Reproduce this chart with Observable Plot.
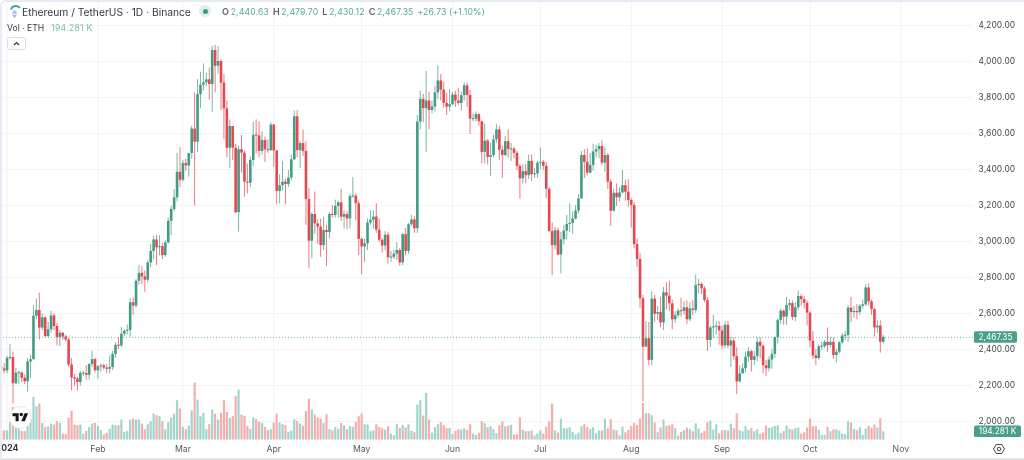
<!DOCTYPE html>
<html><head><meta charset="utf-8">
<style>
html,body{margin:0;padding:0;background:#fff;overflow:hidden}
#wrap{position:relative;width:1024px;height:460px;overflow:hidden;font-family:Inter,"Noto Sans",sans-serif;background:#fff;filter:blur(0.3px)}
#wrap svg{display:block}
#frame{position:absolute;left:0;top:0;width:1024px;height:460px;box-sizing:border-box;border-top:2px solid #e8ebf6;border-left:2px solid #e8ebf6;border-bottom:2px solid #e4e4e6;border-top-left-radius:6px;pointer-events:none}
.hd{position:absolute;white-space:nowrap;line-height:14px}
#title{left:22px;top:5px;font-size:10.25px;color:#333842}
#ohlc{left:222px;top:5px;font-size:8.6px;letter-spacing:.16px;color:#54ab97}
#ohlc b{font-weight:600;color:#5d6068;margin-left:4px;margin-right:1.6px;font-size:9px}
#ohlc b:first-child{margin-left:0}
#ohlc i{font-style:normal;margin-left:4px}
#vol{left:7px;top:21px;font-size:8.6px;color:#333842}
#vol span{color:#72bfb1;margin-left:7px;letter-spacing:.3px}
#halo{position:absolute;left:199px;top:5px;width:12px;height:12px;border-radius:50%;background:#dcefea}
#dot{position:absolute;left:202.5px;top:8.5px;width:5px;height:5px;border-radius:50%;background:#3d9a84}
#btn{position:absolute;left:7px;top:37px;width:19px;height:13px;box-sizing:border-box;border:1px solid #dcdde0;border-radius:3px;background:#fff}
</style>
<script src="https://cdn.jsdelivr.net/npm/d3@7"></script>
<script src="https://cdn.jsdelivr.net/npm/@observablehq/plot@0.6"></script>
</head><body>
<div id="wrap">
<div id="chart"></div>
<div id="frame"></div>
<svg style="position:absolute;left:9px;top:5px" width="13" height="14" viewBox="0 0 13 14"><path d="M2 4.5A5.2 5.2 0 0 1 11 3" fill="none" stroke="#4aa596" stroke-width="2"/><path d="M5.5 4.5 8.5 8 5.5 9.5 2.5 8Z" fill="#b9c6f2"/><path d="M2.8 9 5.5 10.5 8.2 9 5.5 13Z" fill="#8fa4ea"/></svg>
<div class="hd" id="title">Ethereum / TetherUS · 1D · Binance</div>
<div id="halo"></div><div id="dot"></div>
<div class="hd" id="ohlc"><b>O</b>2,440.63<b>H</b>2,479.70<b>L</b>2,430.12<b>C</b>2,467.35<i>+26.73 (+1.10%)</i></div>
<div class="hd" id="vol">Vol · ETH<span>194.281 K</span></div>
<div id="btn"><svg width="17" height="11" viewBox="0 0 17 11" style="display:block"><path d="M6 7 8.5 4.5 11 7" fill="none" stroke="#333" stroke-width="1.2"/></svg></div>
</div>
<script>
const monthLabels = ["Feb","Mar","Apr","May","Jun","Jul","Aug","Sep","Oct","Nov"];
const priceTicks = [2000,2200,2400,2600,2800,3000,3200,3400,3600,3800,4000,4200];
const lastClose = 2467.35, lastVolume = 194.281;

const opens = [2300,2292,
2281,2352,2355,2210,2268,2269,2240,2221,2331,2344,
2585,2617,2519,2576,2472,2510,2587,2528,2467,2490,
2470,2453,2314,2243,2236,2217,2267,2267,2257,2317,
2344,2282,2304,2309,2297,2290,2300,2373,2423,2420,
2485,2502,2506,2660,2641,2779,2823,2803,2785,2881,
2945,3009,2965,2971,2922,2992,3112,3178,3243,3385,
3340,3433,3420,3489,3625,3552,3817,3868,3882,3898,
3872,4061,3974,4000,3880,3737,3518,3639,3519,3160,
3510,3491,3330,3324,3450,3590,3587,3500,3561,3510,
3505,3647,3503,3278,3310,3330,3317,3353,3454,3693,
3505,3544,3500,3233,3002,3150,3098,3080,2977,3061,
3050,3150,3145,3195,3215,3135,3150,3125,3250,3252,
3210,3012,2970,2988,3103,3118,3136,3063,3007,2975,
3035,2910,2912,2930,2950,2881,3038,2945,3093,3120,
3071,3664,3790,3738,3781,3728,3748,3826,3892,3841,
3767,3747,3760,3814,3780,3767,3810,3865,3812,3680,
3680,3705,3665,3495,3558,3467,3477,3565,3620,3507,
3478,3555,3511,3513,3490,3417,3348,3388,3366,3445,
3372,3375,3435,3440,3418,3290,3055,2977,3060,2925,
3010,3058,3095,3100,3125,3170,3237,3478,3440,3380,
3423,3497,3510,3528,3435,3478,3330,3168,3268,3243,
3270,3310,3274,3228,3200,2983,2900,2682,2413,2460,
2340,2680,2596,2605,2548,2715,2697,2654,2565,2588,
2613,2612,2632,2565,2625,2617,2755,2762,2737,2672,
2450,2520,2525,2528,2503,2420,2535,2420,2447,2360,
2220,2265,2293,2357,2388,2340,2360,2440,2418,2310,
2293,2341,2373,2466,2562,2613,2580,2645,2655,2578,
2632,2694,2677,2657,2602,2447,2364,2350,2415,2416,
2440,2422,2440,2367,2385,2437,2475,2478,2630,2606,
2610,2605,2640,2648,2742,2665,2622,2520,2530,2440.63];
const highs = [2320,2322,
2362,2428,2386,2295,2280,2276,2258,2350,2368,2643,
2681,2713,2600,2580,2550,2613,2600,2545,2505,2495,
2480,2462,2350,2262,2245,2278,2280,2310,2320,2390,
2352,2310,2320,2320,2315,2365,2390,2437,2465,2522,
2510,2536,2683,2687,2788,2867,2860,2835,2895,2985,
3030,3033,3032,2990,3003,3130,3195,3288,3488,3522,
3450,3457,3490,3640,3825,3900,3941,3987,3933,3963,
4085,4090,4083,4010,3930,3780,3675,3640,3540,3530,
3589,3500,3430,3470,3663,3676,3665,3610,3580,3565,
3660,3650,3505,3370,3445,3345,3395,3480,3725,3727,
3555,3618,3555,3296,3160,3275,3120,3125,3135,3090,
3160,3200,3230,3225,3290,3170,3165,3265,3355,3265,
3225,3020,3015,3125,3170,3170,3210,3125,3015,3055,
3050,2945,2950,2995,2960,3045,3072,3100,3145,3140,
3700,3835,3817,3945,3830,3780,3860,3975,3928,3885,
3825,3845,3830,3835,3850,3830,3880,3880,3840,3710,
3720,3710,3670,3655,3565,3547,3590,3650,3640,3530,
3585,3620,3545,3525,3500,3430,3425,3428,3480,3482,
3405,3445,3520,3450,3440,3300,3103,3080,3075,3050,
3090,3145,3210,3165,3200,3260,3500,3510,3515,3490,
3540,3535,3545,3560,3520,3490,3345,3290,3320,3300,
3395,3340,3345,3240,3215,3015,2935,2700,2555,2550,
2720,2700,2640,2690,2745,2770,2780,2675,2610,2625,
2685,2665,2670,2660,2670,2815,2790,2770,2750,2690,
2530,2590,2555,2555,2530,2555,2555,2470,2465,2410,
2310,2320,2385,2410,2395,2390,2465,2465,2425,2340,
2360,2400,2470,2570,2625,2620,2690,2675,2670,2660,
2725,2705,2695,2670,2610,2500,2400,2425,2440,2450,
2520,2465,2465,2400,2445,2490,2500,2645,2690,2640,
2650,2650,2675,2760,2765,2675,2630,2560,2560,2479.7];
const lows = [2270,2265,
2265,2340,2098,2205,2205,2215,2205,2163,2238,2340,
2565,2453,2505,2465,2465,2490,2505,2420,2415,2452,
2440,2302,2170,2197,2170,2197,2250,2230,2230,2300,
2270,2235,2275,2285,2265,2265,2285,2353,2400,2410,
2470,2480,2468,2590,2630,2758,2760,2718,2770,2854,
2900,2866,2920,2900,2913,2985,3033,3165,3220,3300,
3330,3390,3358,3457,3196,3496,3738,3835,3860,3783,
3718,3826,3930,3728,3565,3465,3407,3450,3155,3052,
3380,3246,3265,3300,3417,3487,3465,3480,3440,3490,
3500,3413,3205,3210,3280,3205,3300,3340,3450,3465,
3405,3472,3090,2848,2903,3040,2985,2912,2950,2861,
3015,3130,3130,3130,3110,3070,3065,3070,3240,3115,
2922,2815,2885,2950,3090,3070,3045,2995,2935,2950,
2875,2885,2900,2895,2862,2865,2920,2930,3085,3045,
3045,3620,3660,3495,3620,3710,3720,3790,3780,3740,
3700,3720,3755,3745,3755,3725,3780,3745,3595,3665,
3665,3640,3431,3431,3425,3360,3465,3545,3450,3350,
3470,3465,3445,3460,3395,3235,3320,3320,3345,3335,
3350,3350,3400,3395,3240,3050,2810,2953,2922,2820,
2980,3010,3050,3040,3120,3155,3235,3350,3365,3375,
3390,3465,3460,3420,3385,3290,3085,3165,3195,3220,
3265,3225,3190,3075,2960,2855,2630,2111,2415,2310,
2310,2550,2560,2520,2505,2620,2610,2510,2545,2575,
2580,2590,2540,2555,2590,2600,2710,2705,2660,2390,
2410,2460,2480,2425,2400,2405,2405,2300,2340,2150,
2215,2265,2270,2330,2275,2310,2330,2350,2265,2250,
2275,2290,2350,2430,2540,2535,2535,2615,2560,2555,
2615,2640,2625,2530,2410,2345,2310,2340,2395,2405,
2385,2410,2345,2325,2375,2430,2450,2440,2550,2575,
2565,2590,2625,2640,2640,2590,2470,2490,2380,2430.12];
const closes = [2292,2281,
2352,2355,2210,2268,2269,2240,2221,2331,2344,2585,
2617,2519,2576,2472,2510,2587,2528,2467,2490,2470,
2453,2314,2243,2236,2217,2267,2267,2257,2317,2344,
2282,2304,2309,2297,2290,2300,2373,2423,2420,2485,
2502,2506,2660,2641,2779,2823,2803,2785,2881,2945,
3009,2965,2971,2922,2992,3112,3178,3243,3385,3340,
3433,3420,3489,3625,3552,3817,3868,3882,3898,3872,
4061,3974,4000,3880,3737,3518,3639,3519,3160,3510,
3491,3330,3324,3450,3590,3587,3500,3561,3510,3505,
3647,3503,3278,3310,3330,3317,3353,3454,3693,3505,
3544,3500,3233,3002,3150,3098,3080,2977,3061,3050,
3150,3145,3195,3215,3135,3150,3125,3250,3252,3210,
3012,2970,2988,3103,3118,3136,3063,3007,2975,3035,
2910,2912,2930,2950,2881,3038,2945,3093,3120,3071,
3664,3790,3738,3781,3728,3748,3826,3892,3841,3767,
3747,3760,3814,3780,3767,3810,3865,3812,3680,3680,
3705,3665,3495,3558,3467,3477,3565,3620,3507,3478,
3555,3511,3513,3490,3417,3348,3388,3366,3445,3372,
3375,3435,3440,3418,3290,3055,2977,3060,2925,3010,
3058,3095,3100,3125,3170,3237,3478,3440,3380,3423,
3497,3510,3528,3435,3478,3330,3168,3268,3243,3270,
3310,3274,3228,3200,2983,2900,2682,2413,2460,2340,
2680,2596,2605,2548,2715,2697,2654,2565,2588,2613,
2612,2632,2565,2625,2617,2755,2762,2737,2672,2450,
2520,2525,2528,2503,2420,2535,2420,2447,2360,2220,
2265,2293,2357,2388,2340,2360,2440,2418,2310,2293,
2341,2373,2466,2562,2613,2580,2645,2655,2578,2632,
2694,2677,2657,2602,2447,2364,2350,2415,2416,2440,
2422,2440,2367,2385,2437,2475,2478,2630,2606,2610,
2605,2640,2648,2742,2665,2622,2520,2530,2440.63,2467.35];
const volumesK = [218,218,
218,413,764,413,312,203,203,320,507,998,
780,842,390,296,312,374,351,437,390,140,
125,507,671,351,335,351,140,203,296,374,
390,320,218,117,156,257,351,335,335,468,
179,203,468,491,468,468,374,242,359,429,
608,569,546,429,242,406,515,608,920,725,
296,242,328,686,1334,936,546,624,242,359,
702,608,468,624,920,647,507,546,1014,1170,
585,554,312,250,523,476,421,390,296,218,
242,398,608,398,359,335,179,211,476,437,
374,320,671,959,702,585,515,491,390,593,
242,218,289,250,390,335,242,312,296,413,
546,608,359,351,195,218,359,296,265,234,
312,140,101,359,273,343,281,359,203,172,
819,920,562,1092,468,164,289,359,406,335,
265,273,133,203,242,234,265,226,359,140,
109,156,429,382,289,312,242,148,335,429,
312,320,343,117,125,523,234,195,195,211,
94,140,218,140,304,429,842,218,164,491,
265,265,289,179,125,164,312,359,296,242,
289,148,211,211,491,265,476,234,218,101,
304,172,226,312,390,343,491,858,616,616,
569,398,172,281,468,320,335,359,265,94,
179,218,281,242,195,382,257,156,203,406,
445,234,359,148,218,226,211,374,265,616,
218,195,312,226,273,195,242,133,164,328,
273,289,320,335,156,195,328,250,234,273,
281,140,172,281,491,312,312,234,109,109,
296,195,242,242,211,140,125,429,398,250,
218,289,109,257,320,273,351,281,499,194.281];

const DAY = 864e5, jan1 = Date.UTC(2024,0,1), first = Date.UTC(2023,11,30);
const GREEN = "#429b85", RED = "#e6474f", VGREEN = "#a0d5cd", VRED = "#f4aeac";
const candles = closes.map((c,i)=>({date:new Date(first+i*DAY),o:opens[i],h:highs[i],l:lows[i],c,v:volumesK[i],up:c>=opens[i]}));
const months = monthLabels.map((m,i)=>new Date(Date.UTC(2024,1+i,1)));
// volume pane shares the price axis: baseline and scale of the lower pane
const volBase = 1897, volScale = 0.2375;
const volY = v => volBase + v*volScale;
const bodyLo = d => Math.abs(d.o-d.c)<6 ? (d.o+d.c)/2-3 : Math.min(d.o,d.c);
const bodyHi = d => Math.abs(d.o-d.c)<6 ? (d.o+d.c)/2+3 : Math.max(d.o,d.c);
const colorOf = d => d.up?GREEN:RED;
const font = 'Inter,"Noto Sans",sans-serif';

const chart = Plot.plot({
  width:1024, height:460, marginLeft:0, marginRight:51, marginTop:0, marginBottom:19,
  style:{fontFamily:font, fontSize:"8.3px", background:"transparent", overflow:"hidden"},
  x:{type:"utc", domain:[new Date(jan1-2.25*DAY), new Date(jan1+329.8*DAY)]},
  y:{domain:[1889,4339]},
  marks:[
    Plot.ruleX([new Date(jan1),...months],{stroke:"#f1f2f4",strokeWidth:1}),
    Plot.ruleY(priceTicks,{stroke:"#f3f4f6",strokeWidth:1}),
    Plot.ruleX(candles,{x:"date",y1:volBase,y2:d=>volY(d.v),stroke:d=>d.up?VGREEN:VRED,strokeWidth:2.2}),
    Plot.ruleY([lastClose],{stroke:"#3fa58c",strokeOpacity:.75,strokeDasharray:"1,2",strokeWidth:1}),
    Plot.ruleX(candles,{x:"date",y1:"l",y2:"h",stroke:colorOf,strokeWidth:1,strokeOpacity:.72}),
    Plot.ruleX(candles,{x:"date",y1:bodyLo,y2:bodyHi,stroke:colorOf,strokeWidth:2.6}),
    Plot.axisY(priceTicks,{anchor:"right",tickSize:0,tickPadding:5,tickFormat:",.2f",label:null,fill:"#3f434c",fontSize:8.3}),
    Plot.axisX(months,{anchor:"bottom",tickSize:0,tickPadding:4,tickFormat:d=>monthLabels[months.findIndex(m=>+m===+d)],label:null,fill:"#55585f",fontSize:8.7}),
    Plot.text(["2024"],{x:()=>new Date(jan1),frameAnchor:"bottom",dy:9,fontWeight:700,fontSize:8.7,fill:"#33363d"})
  ]
});
document.getElementById("chart").appendChild(chart);

const yS = chart.scale("y");
const svg = d3.select(chart);
function tag(value, txt, x0, w, h){
  const cy = yS.apply(value);
  const g = svg.append("g");
  g.append("rect").attr("x",x0).attr("y",cy-h/2).attr("width",w).attr("height",h).attr("rx",1.5).attr("fill","#499f8b");
  g.append("text").attr("x",x0+w/2).attr("y",cy).attr("dy","0.35em").attr("text-anchor","middle").attr("fill","#fff").attr("font-size",8.3).text(txt);
}
tag(lastClose,"2,467.35",974,43,11.5);
tag(volY(lastVolume),"194.281 K",974,47,11.5);

// TradingView mark
const tv = svg.append("g").attr("transform","translate(20.5,417.5)");
tv.append("circle").attr("r",11).attr("fill","#fff").attr("stroke","#e6e7ea");
tv.append("g").attr("transform","translate(-8,-6) scale(.44)").attr("fill","#131722")
  .call(g=>{g.append("path").attr("d","M14 22H7V11H0V4h14v18zM28 22h-8l7.5-18h8L28 22z");g.append("circle").attr("cx",20).attr("cy",7).attr("r",4);});
// settings glyph
const gear = svg.append("g").attr("transform","translate(999,449)").attr("fill","none").attr("stroke","#444");
gear.append("path").attr("d","M-5.5 0-2.7-4.5H2.7L5.5 0 2.7 4.5H-2.7Z");
gear.append("circle").attr("r",1.8);
</script>
</body></html>
